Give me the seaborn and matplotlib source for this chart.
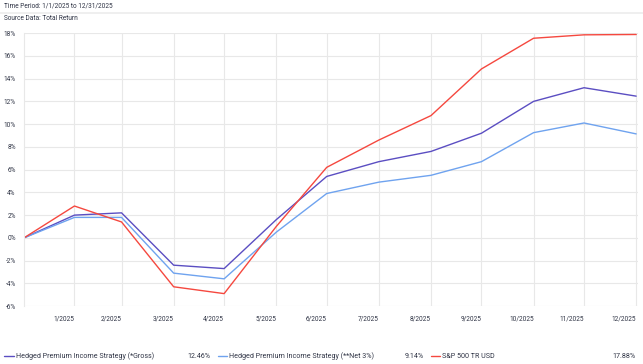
import pandas as pd
import numpy as np
import seaborn as sns
import matplotlib.pyplot as plt
from matplotlib.lines import Line2D

# month-end dates, first point is the start of the period
dates = ['2025-01-01', '2025-01-31', '2025-02-28', '2025-03-31', '2025-04-30', '2025-05-31',
         '2025-06-30', '2025-07-31', '2025-08-31', '2025-09-30', '2025-10-31', '2025-11-30',
         '2025-12-31']
tick_labels = ['1/2025', '2/2025', '3/2025', '4/2025', '5/2025', '6/2025',
               '7/2025', '8/2025', '9/2025', '10/2025', '11/2025', '12/2025']

gross = [0, 2.0, 2.2, -2.4, -2.7, 1.6, 5.4, 6.7, 7.6, 9.2, 12.0, 13.2, 12.46]
net = [0, 1.8, 1.8, -3.1, -3.6, 0.5, 3.9, 4.9, 5.5, 6.7, 9.25, 10.1, 9.14]
spx = [0, 2.8, 1.4, -4.3, -4.9, 1.0, 6.2, 8.6, 10.75, 14.85, 17.55, 17.85, 17.88]

names = ['Hedged Premium Income Strategy (*Gross)',
         'Hedged Premium Income Strategy (**Net 3%)',
         'S&P 500 TR USD']
final_vals = ['12.46%', '9.14%', '17.88%']
colors = ['#5b4ec2', '#6fa3ef', '#f5483f']

df = pd.DataFrame({
    'Date': pd.to_datetime(dates * 3),
    'Return': gross + net + spx,
    'Series': [names[0]] * 13 + [names[1]] * 13 + [names[2]] * 13,
})

sns.set_style('white')
plt.rcParams['font.family'] = ['Roboto', 'DejaVu Sans']
txt = '#2f3445'
fs = 4.7

fig = plt.figure(figsize=(6.43, 3.64), dpi=100)
ax = fig.add_axes([0.0373, 0.159, 0.9547, 0.750])

sns.lineplot(data=df, x='Date', y='Return', hue='Series', palette=colors,
             linewidth=1.0, legend=False, ax=ax)

ax.set_xlim(pd.Timestamp('2025-01-01'), pd.Timestamp('2025-12-31') + pd.Timedelta(days=1))
ax.set_ylim(-6, 18)
ax.set_yticks(np.arange(-6, 19, 2))
ax.set_yticklabels([f'{v}%' for v in range(-6, 19, 2)])
ax.set_xticks(pd.to_datetime(dates[1:]))
ax.set_xticklabels(tick_labels)
ax.set_xlabel('')
ax.set_ylabel('')

ax.grid(True, color='#e8e8e8', linewidth=0.8)
for s in ['top', 'right', 'bottom']:
    ax.spines[s].set_visible(False)
ax.spines['left'].set_color('#e8e8e8')
ax.tick_params(axis='both', length=4, color='#e8e8e8', labelsize=fs, labelcolor=txt, pad=2)
ax.tick_params(axis='x', pad=3)
for lab in ax.get_xticklabels():
    lab.set_horizontalalignment('right')

# header
fig.text(4 / 643, 1 - 6 / 364, 'Time Period: 1/1/2025 to 12/31/2025', fontsize=fs, color=txt, va='center')
fig.add_artist(Line2D([0, 1], [1 - 13 / 364] * 2, color='#ececec', linewidth=1.2))
fig.text(4 / 643, 1 - 19 / 364, 'Source Data: Total Return', fontsize=fs, color=txt, va='center')

# legend row at the bottom
ly = 1 - 356 / 364
rows = [(4, 16, 210), (218, 229, 424), (431, 442, 636)]
for (lx, tx, vx), name, val, c in zip(rows, names, final_vals, colors):
    fig.add_artist(Line2D([lx / 643, (tx - 2) / 643], [ly, ly], color=c, linewidth=1.0))
    fig.text(tx / 643, ly, name, fontsize=5.1, color=txt, va='center')
    fig.text(vx / 643, ly, val, fontsize=5.1, color=txt, va='center', ha='right')

fig.savefig('out.png', dpi=100)
